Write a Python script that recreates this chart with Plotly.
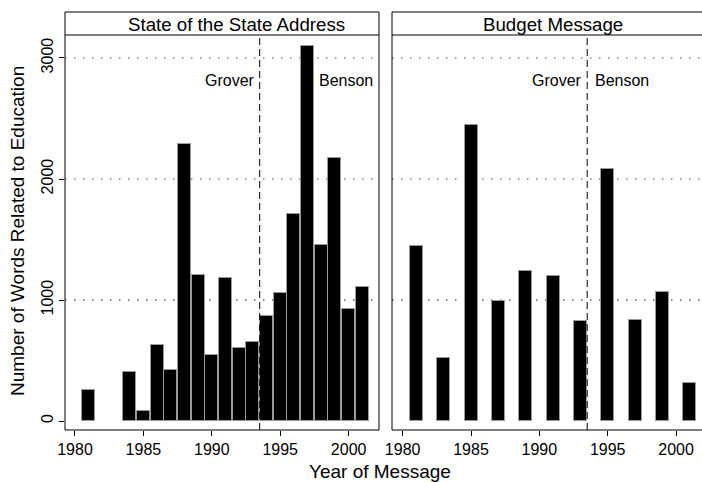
import plotly.graph_objects as go

# ---- data ----
sos_years = [1981, 1984, 1985, 1986, 1987, 1988, 1989, 1990, 1991, 1992, 1993,
             1994, 1995, 1996, 1997, 1998, 1999, 2000, 2001]
sos_words = [255, 405, 85, 630, 425, 2290, 1210, 545, 1180, 600, 655,
             870, 1060, 1710, 3100, 1455, 2175, 925, 1105]

bud_years = [1981, 1983, 1985, 1987, 1989, 1991, 1993, 1995, 1997, 1999, 2001]
bud_words = [1450, 518, 2445, 988, 1237, 1200, 830, 2085, 837, 1066, 314]

panel_titles = ["State of the State Address", "Budget Message"]
x_ticks = [1980, 1985, 1990, 1995, 2000]
y_ticks = [0, 1000, 2000, 3000]
grid_values = [1000, 2000, 3000]
cut_year = 1993.5
left_label = "Grover"
right_label = "Benson"

W, H = 702, 482
FONT = "Liberation Sans, Arial, Helvetica, sans-serif"


def px_x(p):
    return p / W


def px_y(p):
    return (H - p) / H


fig = go.Figure()
bar_style = dict(marker=dict(color="black", line=dict(color="#9a9a9a", width=1)),
                 width=0.95, showlegend=False, hoverinfo="x+y")
fig.add_trace(go.Bar(x=sos_years, y=sos_words, xaxis="x", yaxis="y", **bar_style))
fig.add_trace(go.Bar(x=bud_years, y=bud_words, xaxis="x2", yaxis="y2", **bar_style))

plot_top, plot_bot = 35, 430
strip_top = 12
L0, L1 = 65, 379
R0 = 392

yrange = [-74, 3190]
axis_common = dict(ticks="outside", ticklen=5, tickcolor="black", tickwidth=1,
                   showgrid=False, zeroline=False, showline=False,
                   automargin=False,
                   tickfont=dict(family=FONT, size=16, color="black"))

fig.update_layout(
    template="none",
    width=W, height=H,
    margin=dict(l=0, r=0, t=0, b=0, pad=0),
    paper_bgcolor="white", plot_bgcolor="white",
    bargap=0,
    xaxis=dict(domain=[px_x(L0), px_x(L1)], range=[1979.27, 2002.22],
               tickvals=x_ticks, anchor="y", **axis_common),
    yaxis=dict(domain=[px_y(plot_bot), px_y(plot_top)], range=yrange,
               tickvals=y_ticks, tickangle=-90, anchor="x", **axis_common),
    xaxis2=dict(domain=[px_x(R0), 1.0], range=[1979.22, 2001.90],
                tickvals=x_ticks, anchor="y2", **axis_common),
    yaxis2=dict(domain=[px_y(plot_bot), px_y(plot_top)], range=yrange,
                tickvals=y_ticks, showticklabels=False, ticks="",
                showline=False, anchor="x2", automargin=False,
                showgrid=False, zeroline=False),
)

frame = dict(color="black", width=1)
shapes = []
# grid lines and cut lines
for xr, yr in [("x", "y"), ("x2", "y2")]:
    for g in grid_values:
        shapes.append(dict(type="line", xref=f"{xr} domain", yref=yr,
                           x0=0, x1=1, y0=g, y1=g,
                           line=dict(color="#444444", width=1.2, dash="1.5px,7.5px"),
                           layer="below"))
    shapes.append(dict(type="line", xref=xr, yref=f"{yr} domain",
                       x0=cut_year, x1=cut_year, y0=0, y1=1,
                       line=dict(color="black", width=1, dash="7px,4px"), layer="above"))


def hline(a, b, y):
    return dict(type="line", xref="paper", yref="paper",
                x0=px_x(a), x1=px_x(b), y0=px_y(y), y1=px_y(y),
                line=frame, layer="above")


def vline(x, y0, y1):
    return dict(type="line", xref="paper", yref="paper",
                x0=px_x(x), x1=px_x(x), y0=px_y(y0), y1=px_y(y1),
                line=frame, layer="above")


# left panel: full box with strip divider
for y in (strip_top, plot_top, plot_bot):
    shapes.append(hline(L0, L1, y))
shapes.append(vline(L0, strip_top, plot_bot))
shapes.append(vline(L1, strip_top, plot_bot))
# right panel: open on the right (cropped in the reference)
for y in (strip_top, plot_top, plot_bot):
    shapes.append(hline(R0, W, y))
shapes.append(vline(R0, strip_top, plot_bot))
fig.update_layout(shapes=shapes)

ann = []
strip_mid = px_y((plot_top + strip_top) / 2 + 0.5)
ann.append(dict(text=panel_titles[0], xref="paper", yref="paper",
                x=px_x(236), y=strip_mid, xanchor="center", yanchor="middle",
                showarrow=False, font=dict(family=FONT, size=18.7, color="black")))
ann.append(dict(text=panel_titles[1], xref="paper", yref="paper",
                x=px_x(553), y=strip_mid, xanchor="center", yanchor="middle",
                showarrow=False, font=dict(family=FONT, size=18.7, color="black")))
lab_font = dict(family=FONT, size=16, color="black")
for xr, yr, bx, bshift in [("x", "y", 1997.75, -1), ("x2", "y2", cut_year, 6)]:
    ann.append(dict(text=left_label, xref=xr, yref=yr, x=cut_year, y=2810,
                    xanchor="right", yanchor="middle", xshift=-3,
                    showarrow=False, font=lab_font))
    ann.append(dict(text=right_label, xref=xr, yref=yr, x=bx, y=2810,
                    xanchor="left", yanchor="middle", xshift=bshift,
                    showarrow=False, font=lab_font))
ann.append(dict(text="Number of Words Related to Education", xref="paper", yref="paper",
                x=px_x(18), y=px_y(231), xanchor="center", yanchor="middle",
                textangle=-90, showarrow=False,
                font=dict(family=FONT, size=19, color="black")))
ann.append(dict(text="Year of Message", xref="paper", yref="paper",
                x=px_x(380), y=px_y(471), xanchor="center", yanchor="middle",
                showarrow=False, font=dict(family=FONT, size=19, color="black")))
fig.update_layout(annotations=ann)

fig.write_html("out.html", config={"displayModeBar": False},
               post_script="document.body.style.margin='0';"
                           "document.body.style.overflow='hidden';")
